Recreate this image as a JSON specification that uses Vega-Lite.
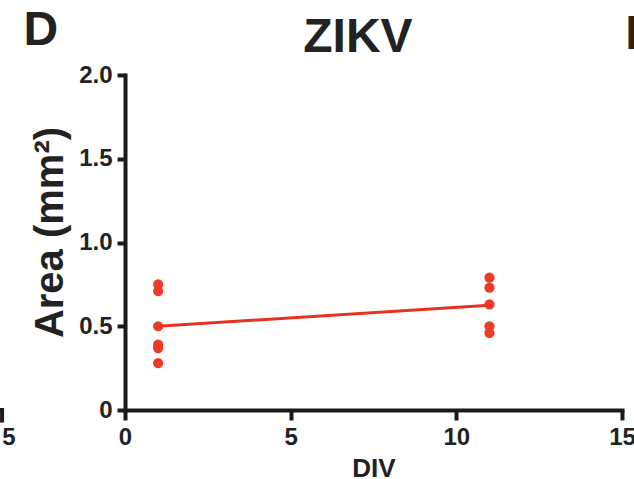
{
  "$schema": "https://vega.github.io/schema/vega-lite/v6.json",
  "autosize": "none",
  "width": 497,
  "height": 335,
  "padding": {"left": 125, "top": 75, "right": 12, "bottom": 69},
  "background": "white",
  "config": {
    "view": {"stroke": null},
    "font": "Liberation Sans"
  },
  "datasets": {
    "points": [
      {"DIV": 1, "Area": 0.75},
      {"DIV": 1, "Area": 0.71},
      {"DIV": 1, "Area": 0.50},
      {"DIV": 1, "Area": 0.39},
      {"DIV": 1, "Area": 0.37},
      {"DIV": 1, "Area": 0.28},
      {"DIV": 11, "Area": 0.79},
      {"DIV": 11, "Area": 0.73},
      {"DIV": 11, "Area": 0.63},
      {"DIV": 11, "Area": 0.50},
      {"DIV": 11, "Area": 0.46}
    ],
    "fit": [
      {"DIV": 1, "Area": 0.50},
      {"DIV": 11, "Area": 0.625}
    ],
    "labels": [
      {"x": 7.03, "y": 2.22, "text": "ZIKV"},
      {"x": -2.54, "y": 2.26, "text": "D"},
      {"x": 15.3, "y": 2.24, "text": "I"}
    ],
    "side": [
      {"x": -3.5, "y": -0.17, "text": "5"}
    ],
    "stub": [
      {"x": -3.71, "x2": -3.71, "y": 0.012, "y2": -0.075},
      {"x": -3.8, "x2": -3.71, "y": 0.0, "y2": 0.0}
    ]
  },
  "layer": [
    {
      "data": {"name": "points"},
      "mark": {"type": "point", "filled": true, "size": 105, "opacity": 1, "color": "#ee3b27"},
      "encoding": {
        "x": {
          "field": "DIV", "type": "quantitative",
          "scale": {"domain": [0, 15], "nice": false, "zero": false},
          "axis": {
            "values": [0, 5, 10, 15],
            "title": "DIV",
            "titleFontSize": 26, "titleFontWeight": "bold", "titleColor": "#222",
            "titleY": 66, "titleBaseline": "alphabetic",
            "labelFontSize": 24, "labelFontWeight": "bold", "labelColor": "#222",
            "labelPadding": 5, "labelFlush": false,
            "domainColor": "#1a1a1a", "domainWidth": 4, "domainCap": "square",
            "tickColor": "#1a1a1a", "tickWidth": 4, "tickSize": 10,
            "grid": false
          }
        },
        "y": {
          "field": "Area", "type": "quantitative",
          "scale": {"domain": [0, 2], "nice": false, "zero": false},
          "axis": {
            "values": [0, 0.5, 1, 1.5, 2],
            "labelExpr": "datum.value == 0 ? '0' : format(datum.value, '.1f')",
            "title": "Area (mm²)",
            "titleFontSize": 40, "titleFontWeight": "bold", "titleColor": "#222",
            "titleAngle": -90, "titleX": -63, "titleY": 157,
            "titleBaseline": "alphabetic", "titleAlign": "center",
            "labelFontSize": 24, "labelFontWeight": "bold", "labelColor": "#222",
            "labelPadding": 5, "labelFlush": false,
            "domainColor": "#1a1a1a", "domainWidth": 4, "domainCap": "square",
            "tickColor": "#1a1a1a", "tickWidth": 4, "tickSize": 8,
            "grid": false
          }
        }
      }
    },
    {
      "data": {"name": "fit"},
      "mark": {"type": "line", "color": "#e53322", "strokeWidth": 3},
      "encoding": {
        "x": {"field": "DIV", "type": "quantitative"},
        "y": {"field": "Area", "type": "quantitative"}
      }
    },
    {
      "data": {"name": "labels"},
      "mark": {"type": "text", "fontSize": 48, "fontWeight": "bold", "color": "#222", "baseline": "middle", "align": "center"},
      "encoding": {
        "x": {"field": "x", "type": "quantitative"},
        "y": {"field": "y", "type": "quantitative"},
        "text": {"field": "text"}
      }
    },
    {
      "data": {"name": "side"},
      "mark": {"type": "text", "fontSize": 24, "fontWeight": "bold", "color": "#222", "baseline": "middle", "align": "center"},
      "encoding": {
        "x": {"field": "x", "type": "quantitative"},
        "y": {"field": "y", "type": "quantitative"},
        "text": {"field": "text"}
      }
    },
    {
      "data": {"name": "stub"},
      "mark": {"type": "rule", "color": "#1a1a1a", "strokeWidth": 4},
      "encoding": {
        "x": {"field": "x", "type": "quantitative"},
        "x2": {"field": "x2"},
        "y": {"field": "y", "type": "quantitative"},
        "y2": {"field": "y2"}
      }
    }
  ]
}
